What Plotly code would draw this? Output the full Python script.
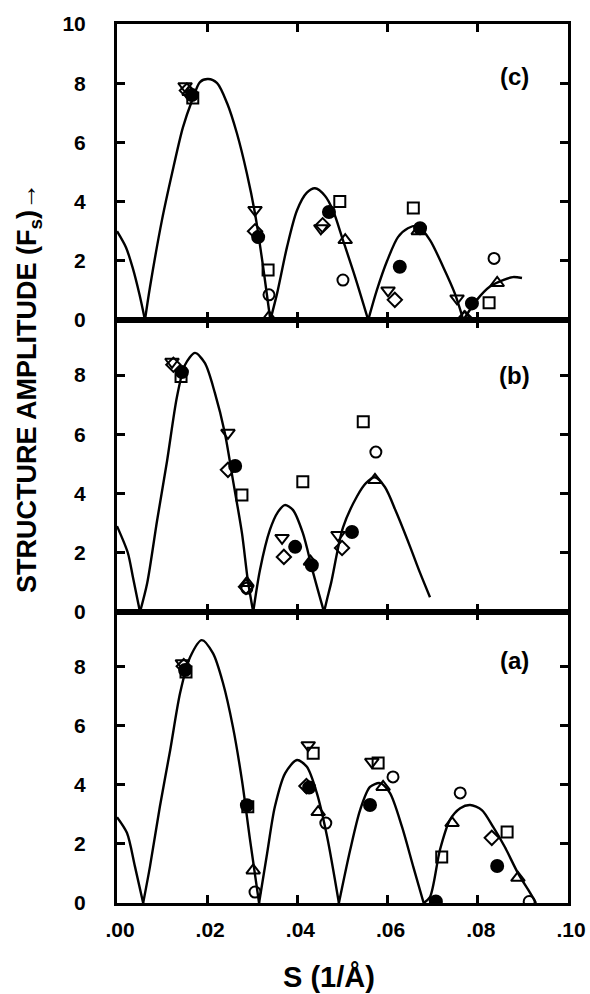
import plotly.graph_objects as go

# ---------------- data ----------------
s_ticks = [0.00, 0.02, 0.04, 0.06, 0.08, 0.10]
s_tick_labels = [".00", ".02", ".04", ".06", ".08", ".10"]
f_ticks_c = [0, 2, 4, 6, 8, 10]
f_ticks_ab = [0, 2, 4, 6, 8]

# calculated curves
curve_c_s = [0.000, 0.0020, 0.0035, 0.0050, 0.0062,
             0.0073, 0.0100, 0.0122, 0.0146, 0.0166, 0.0184, 0.0202, 0.0222, 0.0244, 0.0266, 0.0288, 0.0306, 0.0324, 0.0340,
             0.0355, 0.0377, 0.0399, 0.0421, 0.0439, 0.0461, 0.0479, 0.0501, 0.0528, 0.0557,
             0.0576, 0.0599, 0.0623, 0.0645, 0.0667, 0.0694, 0.0723, 0.0749, 0.0768,
             0.0798, 0.0827, 0.0856, 0.0878, 0.0898]
curve_c_f = [3.00, 2.45, 1.75, 0.85, 0.00,
             1.10, 3.40, 4.95, 6.50, 7.40, 8.04, 8.14, 8.00, 7.33, 6.30, 4.95, 3.60, 1.80, 0.00,
             0.90, 2.47, 3.70, 4.30, 4.45, 4.20, 3.70, 2.70, 1.45, 0.00,
             1.00, 2.00, 2.80, 3.10, 3.18, 2.70, 1.80, 0.90, 0.00,
             0.68, 1.13, 1.35, 1.45, 1.42]

curve_b_s = [0.000, 0.0024, 0.0035, 0.0051,
             0.0067, 0.0089, 0.0111, 0.0133, 0.0151, 0.0173, 0.0195, 0.0217, 0.0239, 0.0257, 0.0277, 0.0290, 0.0302,
             0.0317, 0.0339, 0.0357, 0.0372, 0.0390, 0.0412, 0.0435, 0.0459,
             0.0466, 0.0475, 0.0501, 0.0532, 0.0552, 0.0572, 0.0594, 0.0620, 0.0650, 0.0672, 0.0694]
curve_b_f = [2.90, 2.00, 1.20, 0.00,
             0.98, 3.10, 5.10, 7.27, 8.35, 8.75, 8.40, 7.40, 6.05, 4.46, 2.67, 1.08, 0.00,
             1.42, 2.77, 3.38, 3.61, 3.45, 2.67, 1.32, 0.00,
             0.45, 1.00, 2.85, 3.90, 4.35, 4.55, 4.22, 3.34, 2.20, 1.32, 0.50]

curve_a_s = [0.000, 0.0022, 0.0040, 0.0058,
             0.0073, 0.0095, 0.0118, 0.0140, 0.0162, 0.0188, 0.0213, 0.0235, 0.0257, 0.0277, 0.0295, 0.0315,
             0.0333, 0.0350, 0.0373, 0.0399, 0.0421, 0.0443, 0.0466, 0.0492,
             0.0517, 0.0539, 0.0561, 0.0583, 0.0605, 0.0632, 0.0657, 0.0680,
             0.0694, 0.0716, 0.0738, 0.0761, 0.0783, 0.0809, 0.0834, 0.0860, 0.0889, 0.0916, 0.0929]
curve_a_f = [2.90, 2.37, 1.22, 0.00,
             1.22, 3.25, 5.17, 7.10, 8.30, 8.88, 8.43, 7.43, 5.95, 4.15, 2.13, 0.00,
             1.69, 3.25, 4.39, 4.83, 4.60, 3.72, 2.23, 0.00,
             1.79, 3.14, 3.92, 4.05, 3.72, 2.57, 1.22, 0.00,
             0.20, 1.79, 2.80, 3.20, 3.31, 3.14, 2.57, 1.89, 1.01, 0.34, 0.00]

# observed amplitudes, grouped by marker kind
kinds = ["tri_down", "filled", "square", "open", "tri_up", "diamond"]

c_tri_down = ([0.0151, 0.0306, 0.0452, 0.0601, 0.0754], [7.90, 3.72, 3.10, 1.00, 0.73])
c_filled = ([0.0166, 0.0313, 0.0470, 0.0627, 0.0672, 0.0787], [7.60, 2.80, 3.65, 1.80, 3.10, 0.56])
c_square = ([0.0168, 0.0335, 0.0494, 0.0657, 0.0825], [7.50, 1.69, 4.00, 3.78, 0.58])
c_open = ([0.0337, 0.0501, 0.0836], [0.85, 1.35, 2.08])
c_tri_up = ([0.0160, 0.0337, 0.0506, 0.0668, 0.0770, 0.0843], [7.70, 0.10, 2.70, 3.00, 0.10, 1.25])
c_diamond = ([0.0155, 0.0306, 0.0456, 0.0616, 0.0772], [7.75, 3.00, 3.20, 0.68, 0.05])

b_tri_down = ([0.0122, 0.0246, 0.0366, 0.0490], [8.45, 6.05, 2.50, 2.60])
b_filled = ([0.0144, 0.0262, 0.0395, 0.0432, 0.0521], [8.10, 4.93, 2.20, 1.58, 2.70])
b_square = ([0.0142, 0.0277, 0.0412, 0.0546], [7.95, 3.95, 4.40, 6.42])
b_open = ([0.0288, 0.0574], [0.80, 5.40])
b_tri_up = ([0.0288, 0.0429, 0.0572], [0.98, 1.70, 4.46])
b_diamond = ([0.0125, 0.0246, 0.0286, 0.0370, 0.0499], [8.35, 4.80, 0.85, 1.86, 2.16])

a_tri_down = ([0.0145, 0.0424, 0.0565], [8.10, 5.33, 4.77])
a_filled = ([0.0151, 0.0288, 0.0426, 0.0561, 0.0707, 0.0843], [7.87, 3.30, 3.90, 3.31, 0.05, 1.25])
a_square = ([0.0153, 0.0290, 0.0435, 0.0579, 0.0720, 0.0865], [7.80, 3.25, 5.06, 4.73, 1.55, 2.40])
a_open = ([0.0306, 0.0463, 0.0612, 0.0761, 0.0914], [0.37, 2.70, 4.26, 3.72, 0.05])
a_tri_up = ([0.0302, 0.0446, 0.0590, 0.0743, 0.0889], [1.10, 3.07, 3.92, 2.70, 0.85])
a_diamond = ([0.0148, 0.0420, 0.0831], [8.00, 3.95, 2.20])

panel_labels = ["(c)", "(b)", "(a)"]

# ---------------- styling ----------------
symbol_of = {"tri_down": "triangle-down-open", "filled": "circle", "square": "square-open",
             "open": "circle-open", "tri_up": "triangle-up-open", "diamond": "diamond-open"}
size_of = {"tri_down": 12, "filled": 12, "square": 11, "open": 11, "tri_up": 12, "diamond": 11}

FONT = "Liberation Sans, Arial, sans-serif"
fig = go.Figure()


def split_lobes(s, f):
    """Break the curve at its interior zeros so each lobe is smoothed on its own (sharp cusps)."""
    xs, ys = [], []
    for i, (a, b) in enumerate(zip(s, f)):
        xs.append(a)
        ys.append(b)
        if b == 0 and 0 < i < len(s) - 1:
            xs += [None, a]
            ys += [None, b]
    return xs, ys


panels = [
    ("x", "y", curve_c_s, curve_c_f, [c_tri_down, c_filled, c_square, c_open, c_tri_up, c_diamond]),
    ("x2", "y2", curve_b_s, curve_b_f, [b_tri_down, b_filled, b_square, b_open, b_tri_up, b_diamond]),
    ("x3", "y3", curve_a_s, curve_a_f, [a_tri_down, a_filled, a_square, a_open, a_tri_up, a_diamond]),
]

for xa, ya, cs, cf, groups in panels:
    lx, ly = split_lobes(cs, cf)
    fig.add_trace(go.Scatter(x=lx, y=ly, mode="lines", xaxis=xa, yaxis=ya, connectgaps=False,
                             line=dict(color="black", width=2.4, shape="spline", smoothing=0.8),
                             showlegend=False, hoverinfo="skip"))
    for kind, (sx, fy) in zip(kinds, groups):
        fig.add_trace(go.Scatter(x=sx, y=fy, mode="markers", xaxis=xa, yaxis=ya, showlegend=False,
                                 marker=dict(symbol=symbol_of[kind], size=size_of[kind], color="black",
                                             line=dict(color="black", width=2))))

W, HT = 590, 994
L, R, T, B = 117, 22, 24, 91
H = HT - T - B  # plot height in px (879)
PW = W - L - R
y_cb = 320  # c/b border in px
y_ba = 612  # b/a border
y_bot = HT - B
dom_c = [(y_bot - y_cb) / H, 1.0]
dom_b = [(y_bot - y_ba) / H, (y_bot - y_cb) / H]
dom_a = [0.0, (y_bot - y_ba) / H]

tick_font = dict(family=FONT, size=21, color="black", weight="bold")
common_x = dict(range=[0, 0.1], tickvals=s_ticks, ticktext=s_tick_labels, ticks="inside",
                ticklen=8, tickwidth=2.5, tickcolor="black", showline=True, linewidth=3,
                linecolor="black", mirror="ticks", showgrid=False, zeroline=False, automargin=False)
common_y = dict(ticks="inside", ticklen=8, tickwidth=2.5, tickcolor="black", showline=True,
                linewidth=3, linecolor="black", mirror="ticks", showgrid=False, zeroline=False,
                tickfont=tick_font, ticklabelstandoff=24, automargin=False)

fig.update_layout(
    width=W, height=HT,
    margin=dict(l=L, r=R, t=T, b=B, autoexpand=False),
    paper_bgcolor="white", plot_bgcolor="white",
    xaxis=dict(**common_x, domain=[0, 1], anchor="y", showticklabels=False),
    xaxis2=dict(**common_x, domain=[0, 1], anchor="y2", showticklabels=False),
    xaxis3=dict(**common_x, domain=[0, 1], anchor="y3", showticklabels=True,
                tickfont=tick_font, ticklabelstandoff=6, ticklabelshift=3),
    yaxis=dict(**common_y, domain=dom_c, anchor="x", range=[0, 10], tickvals=f_ticks_c),
    yaxis2=dict(**common_y, domain=dom_b, anchor="x2", range=[0, 9.86], tickvals=f_ticks_ab),
    yaxis3=dict(**common_y, domain=dom_a, anchor="x3", range=[0, 9.83], tickvals=f_ticks_ab),
)

label_pos = [("x domain", "y domain", 0.824), ("x2 domain", "y2 domain", 0.81), ("x3 domain", "y3 domain", 0.835)]
for (xr, yr, yy), lab in zip(label_pos, panel_labels):
    fig.add_annotation(text=lab, xref=xr, yref=yr, x=0.882, y=yy, xanchor="center", yanchor="middle",
                       showarrow=False, font=dict(family=FONT, size=24, color="black", weight="bold"))

fig.add_annotation(text="STRUCTURE AMPLITUDE (F<sub>s</sub>)→", xref="paper", yref="paper",
                   x=(29 - L) / PW, y=(y_bot - 388) / H, xanchor="center", yanchor="middle",
                   textangle=-90, showarrow=False,
                   font=dict(family=FONT, size=27, color="black", weight="bold"))

fig.add_annotation(text="S (1/Å)", xref="paper", yref="paper",
                   x=(329 - L) / PW, y=(y_bot - 977) / H, xanchor="center", yanchor="middle",
                   showarrow=False, font=dict(family=FONT, size=29, color="black", weight="bold"))

# remove the default page margin so the 590x994 figure fills the window exactly
fig.write_html("out.html", config={"displayModeBar": False},
               post_script="document.body.style.margin='0px';document.body.style.overflow='hidden';")
